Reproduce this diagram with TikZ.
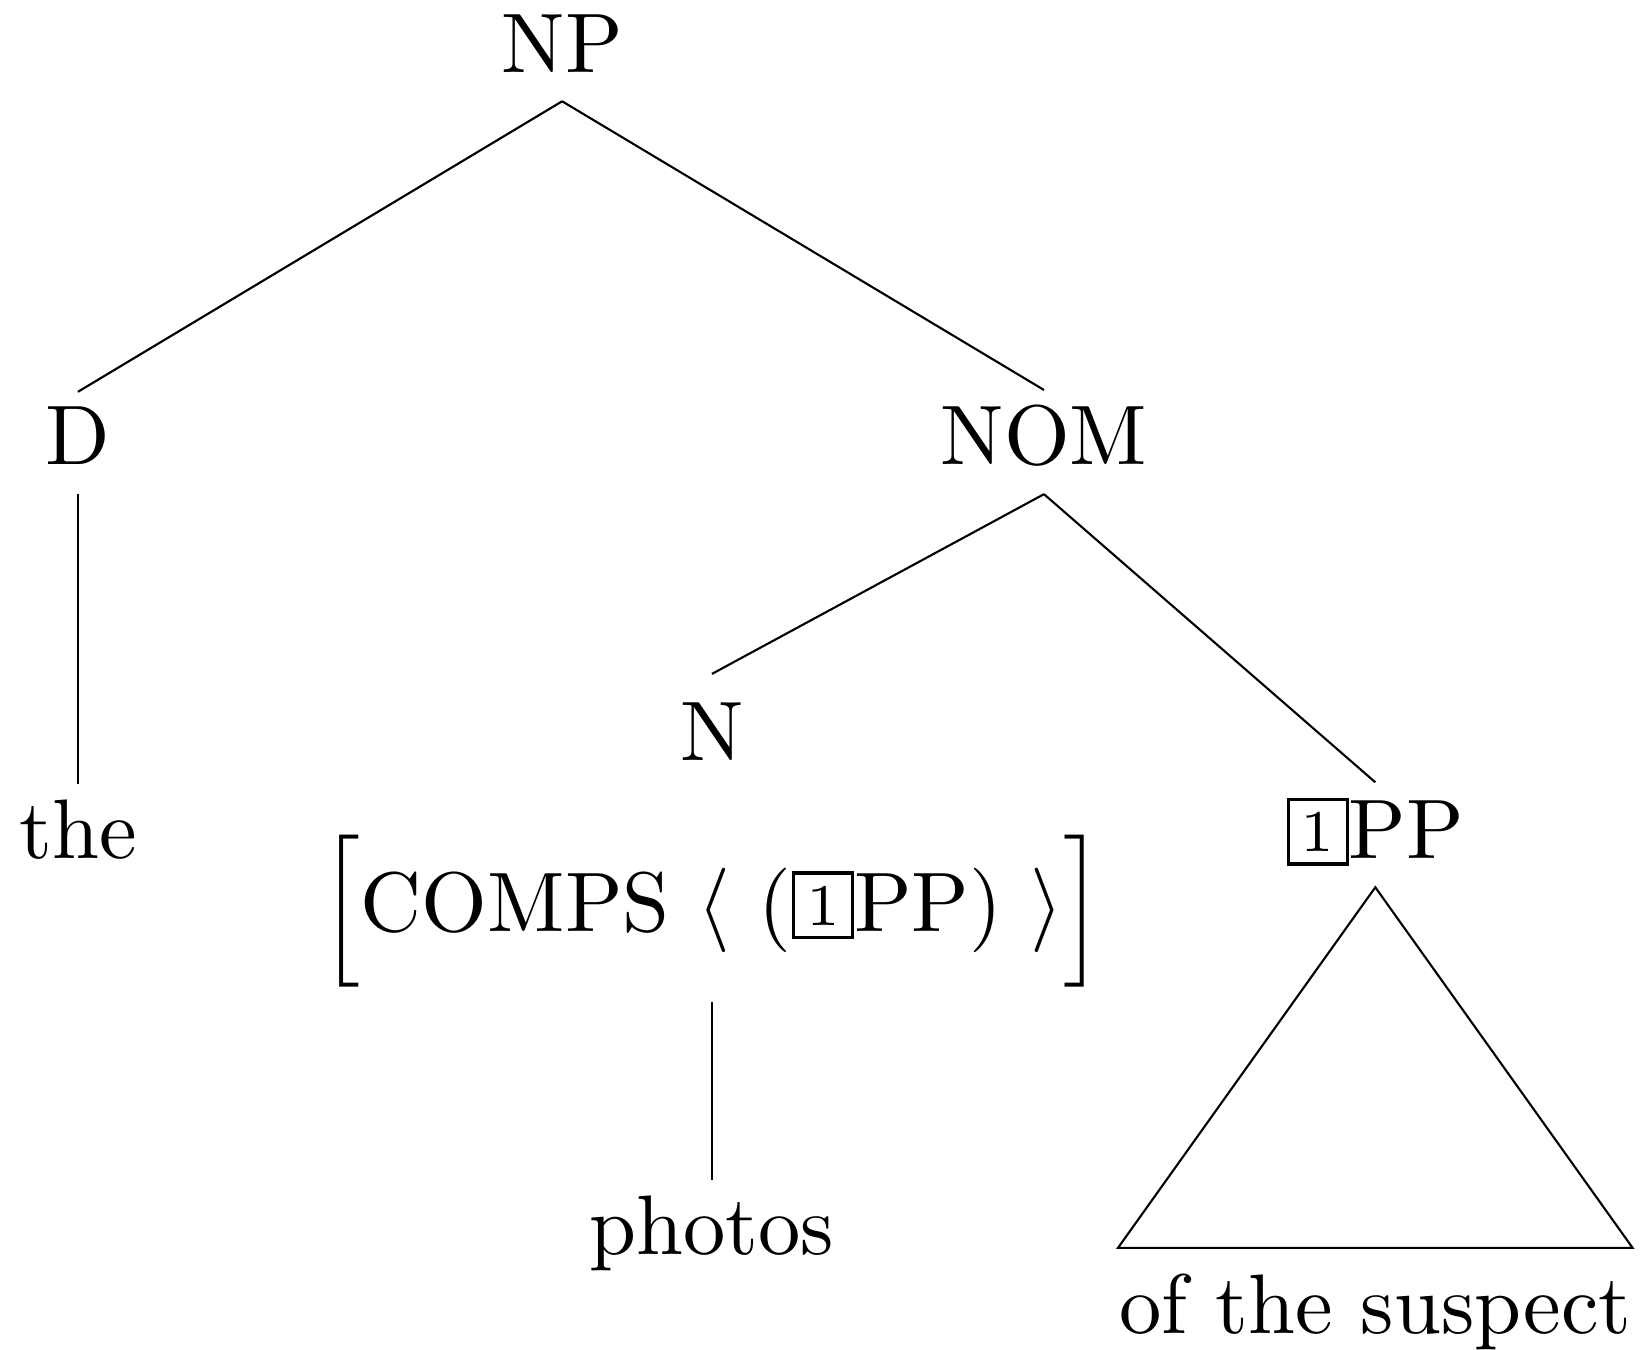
\documentclass[tikz,border=0pt]{standalone}
\usepackage{amsmath}
\newcommand{\tagbox}[1]{\raisebox{0.8pt}{\setlength{\fboxsep}{1.3pt}\fbox{\scriptsize #1}}}
\tikzset{cat/.style={anchor=base, inner ysep=1.7pt, text depth=1.63pt}}

\begin{document}
\begin{tikzpicture}[line width=0.25pt]
\useasboundingbox (0,0) rectangle (6.821,5.611);

%categories
\node[cat] (NP)  at (2.338,5.311) {NP};
\node[cat] (D)   at (0.324,3.677) {D};
\node[cat] (NOM) at (4.342,3.677) {NOM};
\node[inner ysep=1.7pt, anchor=north, align=center] (N) at (2.961,2.808)
     {\strut N\\[4.2pt]$\Big[\text{COMPS}\ \langle\ (\tagbox{1}\text{PP})\ \rangle\Big]$};
\node[cat] (PP)  at (5.72,2.042) {\tagbox{1}PP};

%words
\node[cat] (the)    at (0.324,2.042) {the};
\node[cat] (photos) at (2.961,0.395) {photos};
\node[cat, inner xsep=0pt, inner ysep=2.9pt] (susp) at (5.72,0.0665) {of the suspect};

%branches
\draw (NP.south)--(D.north);        %NP--D
\draw (NP.south)--(NOM.north);      %NP--NOM
\draw (D.south)--(the.north);       %D--the
\draw (NOM.south)--(N.north);       %NOM--N
\draw (NOM.south)--(PP.north);      %NOM--PP
\draw (N.south)--(photos.north);    %N--photos

%roof
\draw (PP.south)--(susp.north west)--(susp.north east)--cycle;
\end{tikzpicture}
\end{document}
